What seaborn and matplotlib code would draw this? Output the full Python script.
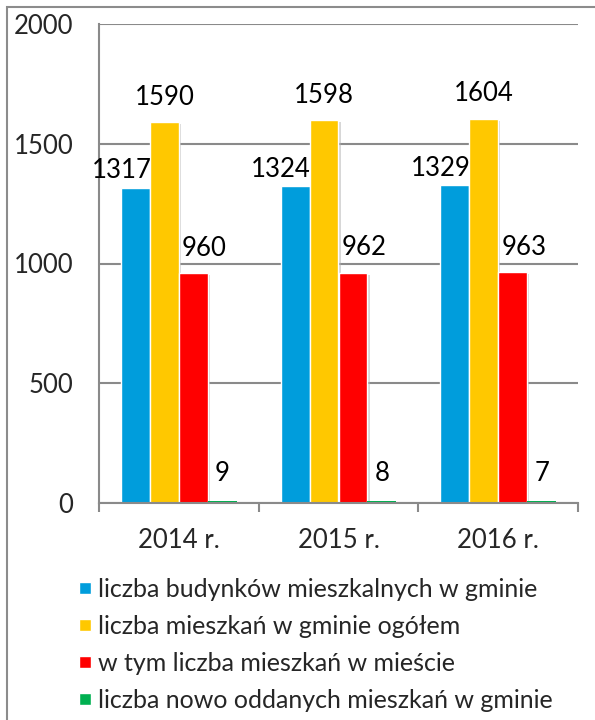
import matplotlib
matplotlib.use("Agg")
import matplotlib.pyplot as plt
import matplotlib.patches as mpatches
import matplotlib.patheffects as pe
from matplotlib.lines import Line2D
import seaborn as sns
import pandas as pd

years = ["2014 r.", "2015 r.", "2016 r."]
series = [
    "liczba budynków mieszkalnych w gminie",
    "liczba mieszkań w gminie ogółem",
    "w tym liczba mieszkań w mieście",
    "liczba nowo oddanych mieszkań w gminie",
]
budynki = [1317, 1324, 1329]
mieszkania = [1590, 1598, 1604]
miasto = [960, 962, 963]
nowe = [9, 8, 7]
colors = ["#009DDC", "#FFC800", "#FF0000", "#00B050"]

values = [budynki, mieszkania, miasto, nowe]
rows = []
for s, vals in zip(series, values):
    for y, v in zip(years, vals):
        rows.append({"rok": y, "seria": s, "wartosc": v})
df = pd.DataFrame(rows)

sns.set_theme(style="white")
plt.rcParams["font.family"] = ["Lato", "DejaVu Sans"]

fig = plt.figure(figsize=(5.95, 7.2), dpi=100)
ax = fig.add_axes([99/595, 1-503/720, (578-99)/595, (503-24)/720])

sns.barplot(data=df, x="rok", y="wartosc", hue="seria", order=years,
            hue_order=series, palette=colors, width=0.725, ax=ax,
            edgecolor="white", linewidth=1, legend=False, errorbar=None,
            saturation=1)

for ci, cont in enumerate(ax.containers):
    for p in cont:
        if ci == 3:
            p.set_edgecolor("none")
            p.set_path_effects([pe.Normal()])
        else:
            p.set_path_effects([pe.SimplePatchShadow(offset=(1.5, -1.5), shadow_rgbFace="#b0b0b0", alpha=0.5), pe.Normal()])

ax.set_ylim(0, 2000)
ax.set_xlim(-0.5, 2.5)
ax.set_yticks([0, 500, 1000, 1500, 2000])
ax.yaxis.grid(True, color="#8a8a8a", lw=1.5)
ax.set_axisbelow(True)
ax.set_xlabel("")
ax.set_ylabel("")
for s in ["top", "right"]:
    ax.spines[s].set_visible(False)
for s in ["left", "bottom"]:
    ax.spines[s].set_color("#8a8a8a")
    ax.spines[s].set_linewidth(1.5)

ax.tick_params(axis="y", which="major", length=6.5, color="#8a8a8a", width=1.5, pad=12, labelsize=18.5)
ax.set_xticks([-0.5, 0.5, 1.5, 2.5], minor=True)
ax.tick_params(axis="x", which="minor", length=6.5, color="#8a8a8a", width=1.5, direction="out")
ax.tick_params(axis="x", which="major", length=0, pad=18, labelsize=18.5)
ax.tick_params(axis="x", which="minor", bottom=True)

# data labels
offsets = [(-10, 12), (0, 18), (8, 18), (0, 20)]
for ci, cont in enumerate(ax.containers):
    dx, dy = offsets[ci]
    for bar, v in zip(cont, values[ci]):
        ax.annotate(str(v), (bar.get_x() + bar.get_width()/2, bar.get_height()),
                    xytext=(dx, dy), textcoords="offset points",
                    ha="center", va="center", fontsize=18.5, color="black")

handles = [Line2D([0], [0], marker="s", linestyle="none", markersize=8,
                  markerfacecolor=c, markeredgecolor="white") for c in colors]
fig.legend(handles, series, loc="upper left", bbox_to_anchor=(62/595, 1-568/720),
           frameon=False, fontsize=18, handletextpad=0.05, labelspacing=0.56,
           handlelength=1.0, borderaxespad=0)

fig.patches.append(mpatches.Rectangle((7/595, -0.05), 1.2, 1-7/720+0.05, fill=False,
                                      edgecolor="#8c8c8c", lw=1.5,
                                      transform=fig.transFigure))

fig.savefig("out.png", dpi=100)
